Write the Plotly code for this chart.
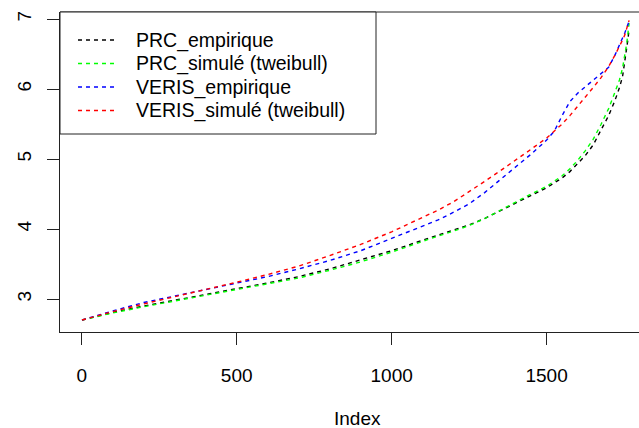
import plotly.graph_objects as go

# ---- data ----
index_pts = [1, 100, 200, 300, 400, 500, 600, 700, 800, 900, 1000, 1100, 1150, 1200, 1250,
             1300, 1350, 1400, 1450, 1500, 1525, 1550, 1575, 1600, 1625, 1650, 1675, 1700,
             1720, 1735, 1745, 1752, 1758, 1762, 1766]
prc_emp = [2.70, 2.81, 2.90, 2.98, 3.07, 3.15, 3.23, 3.32, 3.43, 3.56, 3.69, 3.84, 3.91, 3.98, 4.06,
           4.15, 4.26, 4.37, 4.49, 4.59, 4.66, 4.73, 4.82, 4.93, 5.05, 5.20, 5.40, 5.62,
           5.83, 6.02, 6.18, 6.38, 6.55, 6.70, 6.85]
prc_sim = [2.70, 2.80, 2.89, 2.97, 3.05, 3.13, 3.21, 3.30, 3.41, 3.53, 3.67, 3.83, 3.90, 3.97, 4.05,
           4.15, 4.27, 4.38, 4.50, 4.61, 4.68, 4.76, 4.86, 4.98, 5.12, 5.28, 5.49, 5.72,
           5.95, 6.13, 6.30, 6.46, 6.64, 6.78, 6.94]
veris_emp = [2.70, 2.83, 2.95, 3.04, 3.13, 3.22, 3.32, 3.43, 3.55, 3.69, 3.87, 4.05, 4.13, 4.24, 4.36,
             4.52, 4.70, 4.88, 5.07, 5.27, 5.40, 5.62, 5.82, 5.94, 6.03, 6.12, 6.21, 6.31,
             6.48, 6.62, 6.72, 6.80, 6.87, 6.92, 6.97]
veris_sim = [2.70, 2.82, 2.93, 3.03, 3.13, 3.24, 3.35, 3.47, 3.62, 3.78, 3.96, 4.16, 4.27, 4.39, 4.53,
             4.68, 4.83, 4.98, 5.14, 5.30, 5.40, 5.50, 5.62, 5.75, 5.88, 6.02, 6.16, 6.32,
             6.48, 6.60, 6.70, 6.77, 6.85, 6.91, 6.98]

series_names = ["PRC_empirique", "PRC_simulé (tweibull)", "VERIS_empirique", "VERIS_simulé (tweibull)"]
series_values = [prc_emp, prc_sim, veris_emp, veris_sim]
series_colors = ["#000000", "#00FF00", "#0000FF", "#FF0000"]

x_ticks = [0, 500, 1000, 1500]
y_ticks = [3, 4, 5, 6, 7]
x_label = "Index"

FONT = "Liberation Sans, Arial, sans-serif"
W, H = 639, 428
L, T, B = 60, 12, 96
PW, PH = W - L, H - T - B

def px(xpix):
    return (xpix - L) / PW

def py(ypix):
    return (H - B - ypix) / PH

fig = go.Figure()
for name, vals, col in zip(series_names, series_values, series_colors):
    fig.add_trace(go.Scatter(x=index_pts, y=vals, mode="lines", name=name,
                             line=dict(color=col, width=1.4, dash="4px,4px"),
                             showlegend=False))

shapes = []
# top border of plot box
shapes.append(dict(type="line", xref="paper", yref="paper", x0=0, x1=1, y0=1, y1=1,
                   line=dict(color="#222", width=1)))
# legend box
shapes.append(dict(type="rect", xref="paper", yref="paper", x0=px(60), x1=px(376),
                   y0=py(134), y1=1, line=dict(color="#222", width=1), fillcolor="white"))
annotations = []
leg_y = [40, 63.5, 87, 110.5]
for name, col, yy in zip(series_names, series_colors, leg_y):
    shapes.append(dict(type="line", xref="paper", yref="paper", x0=px(78), x1=px(115),
                       y0=py(yy), y1=py(yy), line=dict(color=col, width=1.4, dash="4px,4px")))
    annotations.append(dict(xref="paper", yref="paper", x=px(134), y=py(yy), text=name,
                            showarrow=False, xanchor="left", yanchor="middle",
                            font=dict(family=FONT, size=19.5, color="#000")))
annotations.append(dict(xref="paper", yref="paper", x=px(357), y=py(418), text=x_label,
                        showarrow=False, xanchor="center", yanchor="middle",
                        font=dict(family=FONT, size=19, color="#000")))

fig.update_layout(
    width=W, height=H, margin=dict(l=L, r=0, t=T, b=B),
    paper_bgcolor="white", plot_bgcolor="white",
    shapes=shapes, annotations=annotations,
    font=dict(family=FONT, size=19, color="#000"),
)
fig.update_xaxes(range=[-70, 1798], tickvals=x_ticks, ticks="outside", ticklen=12,
                 tickcolor="#222", showline=True, linecolor="#222", linewidth=1,
                 showgrid=False, zeroline=False, ticklabelstandoff=14)
fig.update_yaxes(range=[2.529, 7.1], tickvals=y_ticks, ticks="outside", ticklen=12,
                 tickcolor="#222", showline=True, linecolor="#222", linewidth=1,
                 showgrid=False, zeroline=False, tickangle=-90, ticklabelstandoff=8)

fig.write_html("out.html")
